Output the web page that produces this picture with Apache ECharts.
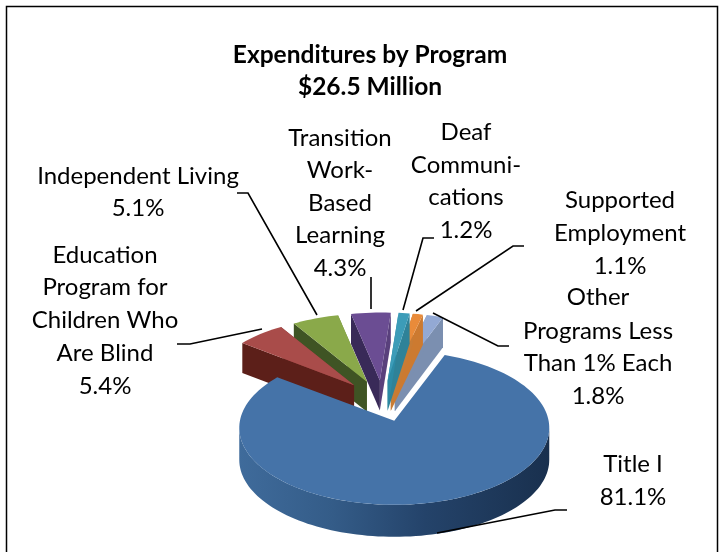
<!DOCTYPE html>
<html><head><meta charset="utf-8">
<style>html,body{margin:0;padding:0;background:#fff}#c{width:721px;height:552px}</style>
<script src="https://cdn.jsdelivr.net/npm/echarts@6/dist/echarts.min.js"></script>
</head><body><div id="c"></div>
<script>
const categories = ['Title I','Education Program for Children Who Are Blind','Independent Living','Transition Work-Based Learning','Deaf Communications','Supported Employment','Other Programs Less Than 1% Each'];
const values = [81.1,5.4,5.1,4.3,1.2,1.1,1.8];
const topColors = ['#4573a8','#a94c4a','#8aa94a','#6b4d93','#3c9cb8','#e98b3a','#93a9d4'];
const wallColors = ['#2c4f78','#5c1f19','#3f5424','#392a58','#2c8aa5','#c87c35','#7b8fb0'];
const edgeColors = ['#3c6490','#8a3c3a','#6f8a3a','#59407c','#2f8298','#cc7a30','#7b8fb0'];
const paint = [6,5,4,3,2,1,0];   // back slices first, Title I last
const titleLines = ['Expenditures by Program','$26.5 Million'];
const labelLines = [
 ['Title I','81.1%'],
 ['Education','Program for','Children Who','Are Blind','5.4%'],
 ['Independent Living','5.1%'],
 ['Transition','Work-','Based','Learning','4.3%'],
 ['Deaf','Communi-','cations','1.2%'],
 ['Supported','Employment','1.1%'],
 ['Other','Programs Less','Than 1% Each','1.8%']
];
// layout
const startDeg = 19, cx = 382.6, cy = 401, explodeX = 45, explodeY = 20.5, lift = 7;
const mainR = {rx:155, ry:77, depth:32}, backR = {rx:148, ry:75, depth:30};
const labelBoxes = [
 {x:633,y:[464,497]},
 {x:105,y:[255,287,320,353,386]},
 {x:138,y:[176,208]},
 {x:340,y:[138,170,203,235,268]},
 {x:466,y:[132,165,197,230]},
 {x:620,y:[200,233,266]},
 {x:598,y:[297,331,363,396]}
];
const leaders = [
 [[437,533],[555,510],[567,510]],
 [[262,329],[190,344],[177,344]],
 [[317,315],[248,193],[237,193]],
 [[371,309],[371,277]],
 [[403,310],[423,238],[434,238]],
 [[416,311],[513,246],[524,246]],
 [[433,313],[498,346],[509,346]]
];

const total = values.reduce((a,b)=>a+b,0);
const starts = []; let acc = startDeg;
values.forEach(v=>{starts.push(acc); acc += v/total*360;});
const rad = d=>d*Math.PI/180;

function renderSlice(params, api){
  const i = api.value(0), v = api.value(1);
  const a0 = starts[i], a1 = a0 + v/total*360, mid = (a0+a1)/2;
  const ax = cx + explodeX*Math.sin(rad(mid)), ay = cy - explodeY*Math.cos(rad(mid));
  const g = i===0 ? mainR : backR;
  const pt = d=>[ax + g.rx*Math.sin(rad(d)), ay + lift - g.ry*Math.cos(rad(d))];
  const arc = (s,e)=>{const r=[]; const n=Math.max(2,Math.ceil(Math.abs(e-s)/2)); for(let k=0;k<=n;k++) r.push(pt(s+(e-s)*k/n)); return r;};
  const down = p=>[p[0],p[1]+g.depth];
  const z = paint.indexOf(i)*10;
  const kids = [];
  const poly = (points, fill, zz)=>({type:'polygon',shape:{points},style:{fill,stroke:null},z2:z+zz,silent:true});
  if(i===0){
    const front = arc(90,270);
    const wall = front.concat(front.slice().reverse().map(down));
    kids.push(poly(wall,{type:'linear',x:0,y:0,x2:1,y2:0,colorStops:[
      {offset:0,color:'#3f6b9b'},{offset:0.3,color:'#345c88'},{offset:0.6,color:'#24436a'},{offset:1,color:'#19304e'}]},0));
  } else {
    const p0 = pt(a0), p1 = pt(a1), ap=[ax,ay];
    kids.push(poly([ap,p1,down(p1),down(ap)],edgeColors[i],0));
    kids.push(poly([ap,p0,down(p0),down(ap)],wallColors[i],1));
  }
  kids.push(poly([[ax,ay]].concat(arc(a0,a1)),topColors[i],2));
  return {type:'group',children:kids};
}

const graphics = [
 {type:'rect',shape:{x:6.5,y:6.5,width:711,height:560},style:{fill:'none',stroke:'#000',lineWidth:1.5},silent:true}
];
titleLines.forEach((t,k)=>graphics.push({type:'text',x:370,y:55+k*32,style:{text:t,font:'bold 24.5px Lato',fill:'#000',align:'center',verticalAlign:'middle'},silent:true}));
labelLines.forEach((ls,i)=>ls.forEach((t,k)=>graphics.push({type:'text',x:labelBoxes[i].x,y:labelBoxes[i].y[k],style:{text:t,font:'24px Lato',fill:'#000',align:'center',verticalAlign:'middle'},silent:true})));
leaders.forEach(p=>graphics.push({type:'polyline',shape:{points:p},style:{fill:'none',stroke:'#000',lineWidth:1.6},z:5,silent:true}));

const chart = echarts.init(document.getElementById('c'),null,{renderer:'canvas'});
chart.setOption({
  animation:false,
  backgroundColor:'#fff',
  xAxis:{show:false,type:'value',min:0,max:1},
  yAxis:{show:false,type:'value',min:0,max:1},
  grid:{left:0,right:0,top:0,bottom:0},
  graphic:graphics,
  series:[{type:'custom',coordinateSystem:'none',silent:true,clip:false,renderItem:renderSlice,
    encode:{tooltip:1},
    data:categories.map((c,i)=>({name:c,value:[i,values[i]]}))}]
});
</script></body></html>
